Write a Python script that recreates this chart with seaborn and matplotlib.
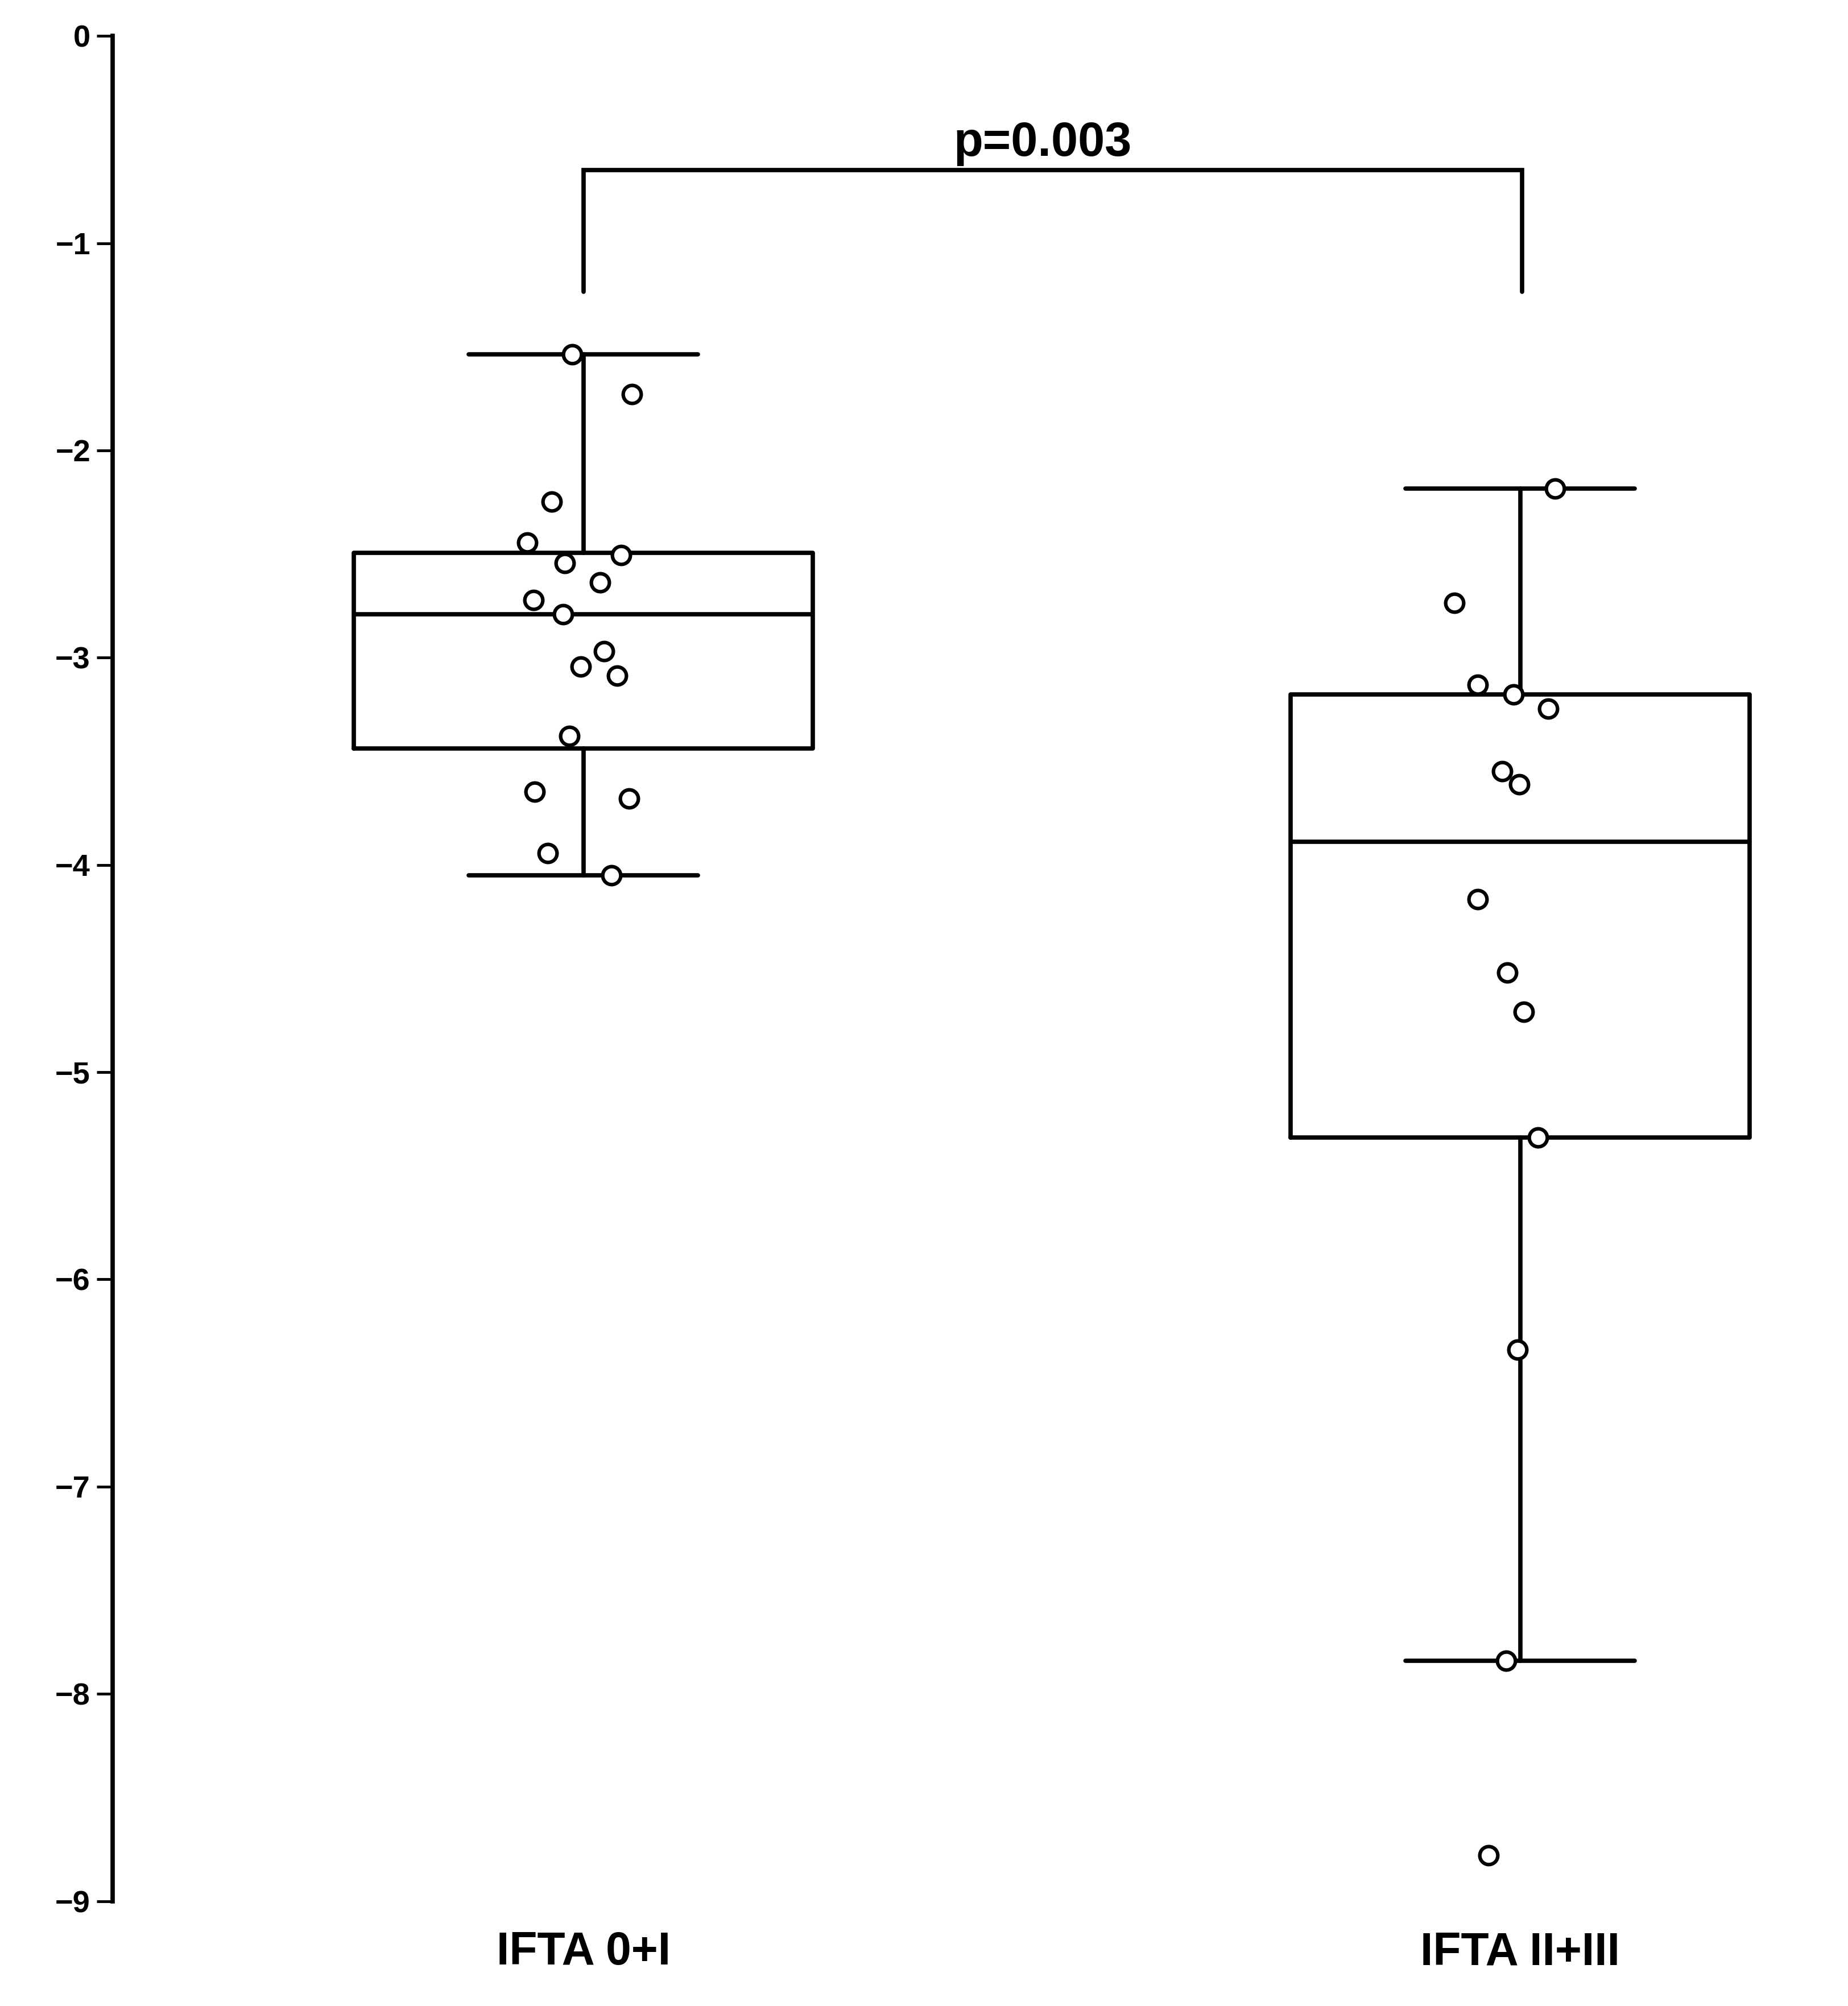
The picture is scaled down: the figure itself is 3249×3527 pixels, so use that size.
import numpy as np
import pandas as pd
import matplotlib
matplotlib.use("Agg")
import matplotlib.pyplot as plt
import seaborn as sns

# values
groups = ["IFTA 0+I", "IFTA II+III"]

ifta_low = [-1.537, -1.728, -2.247, -2.444, -2.543, -2.506, -2.636, -2.722, -2.790,
            -2.969, -3.043, -3.086, -3.377, -3.648, -3.679, -3.944, -4.049]
ifta_low_jitter = [-0.012, 0.052, -0.034, -0.060, -0.020, 0.040, 0.018, -0.053, -0.022,
                   0.022, -0.003, 0.036, -0.015, -0.052, 0.049, -0.038, 0.030]

ifta_high = [-2.185, -2.735, -3.130, -3.179, -3.247, -3.549, -3.611, -4.167, -4.519,
             -4.710, -5.315, -6.340, -7.840, -8.778]
ifta_high_jitter = [0.037, -0.070, -0.045, -0.007, 0.030, -0.019, -0.001, -0.045, -0.014,
                    0.004, 0.019, -0.003, -0.015, -0.034]

# box statistics as drawn in the figure (hinges differ from numpy percentiles)
box_q1 = [-3.438, -5.315]
box_median = [-2.790, -3.889]
box_q3 = [-2.494, -3.179]
whisker_low = [-4.049, -7.840]
whisker_high = [-1.537, -2.185]

p_text = "p=0.003"
bracket_top = -0.648
bracket_bottom = -1.235

y_ticks = list(range(0, -10, -1))

sns.set_style("ticks")
plt.rcParams['font.family'] = ['Liberation Sans', 'DejaVu Sans']
plt.rcParams['font.weight'] = 'bold'
plt.rcParams['text.color'] = 'black'

fig = plt.figure(figsize=(32.49, 35.27), dpi=100)
ax = fig.add_axes([0.0609, 0.0523, 0.9391, 0.9298])

# boxes
stats = []
for i, name in enumerate(groups):
    stats.append({
        'label': name,
        'q1': box_q1[i], 'med': box_median[i], 'q3': box_q3[i],
        'whislo': whisker_low[i], 'whishi': whisker_high[i],
        'fliers': [],
    })
line_kw = dict(color='black', linewidth=5.5)
ax.bxp(stats, positions=[0, 1], widths=0.49, showfliers=False, patch_artist=False,
       boxprops=line_kw, whiskerprops=line_kw, capprops=line_kw,
       medianprops=line_kw, zorder=2)

# jittered points
df = pd.DataFrame({
    'group': [groups[0]] * len(ifta_low) + [groups[1]] * len(ifta_high),
    'value': ifta_low + ifta_high,
    'jitter': ifta_low_jitter + ifta_high_jitter,
})
df['xpos'] = df['group'].map({g: i for i, g in enumerate(groups)}) + df['jitter']
sns.scatterplot(data=df, x='xpos', y='value', ax=ax, marker='o', s=520,
                facecolor='white', edgecolor='black', linewidth=4.5, zorder=3,
                legend=False)

# significance bracket
ax.plot([0, 0, 1.002, 1.002], [bracket_bottom, bracket_top, bracket_top, bracket_bottom],
        color='black', linewidth=5.5, solid_joinstyle='miter', zorder=2)
ax.text(0.49, bracket_top + 0.02, p_text, ha='center', va='bottom',
        fontsize=61, fontweight='bold', color='black')

ax.set_xlim(-0.5027, 1.35)
ax.set_ylim(-9, 0)
ax.set_yticks(y_ticks)
ax.set_yticklabels([str(t).replace('-', '\u2212') for t in y_ticks])
ax.set_xticks([0, 1])
ax.set_xticklabels(groups)
ax.set_xlabel('')
ax.set_ylabel('')

sns.despine(ax=ax, bottom=True)
ax.spines['left'].set_linewidth(5.5)
ax.spines['left'].set_color('black')
ax.tick_params(axis='y', length=20, width=3.5, pad=8, labelsize=39, colors='black')
ax.tick_params(axis='x', length=0, pad=38, labelsize=58, colors='black')
for lab in ax.get_xticklabels() + ax.get_yticklabels():
    lab.set_fontweight('bold')

fig.savefig('out.png', dpi=100, facecolor='white')
